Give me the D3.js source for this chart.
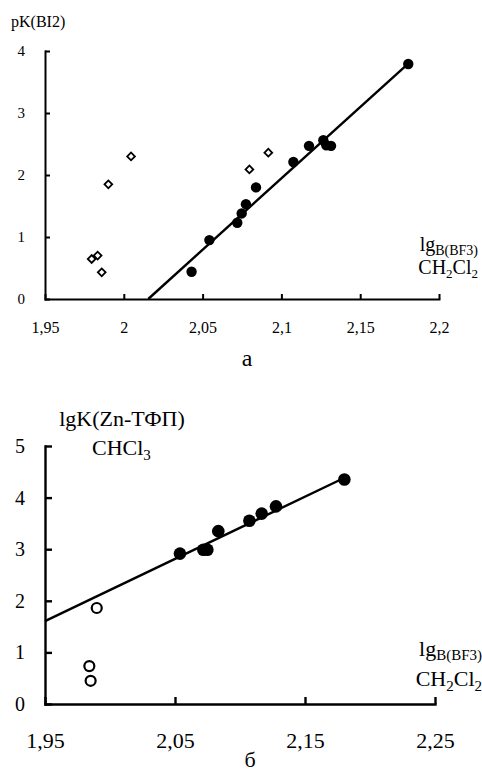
<!DOCTYPE html>
<html><head><meta charset="utf-8">
<script src="https://cdn.jsdelivr.net/npm/d3@7"></script>
<style>
html,body{margin:0;padding:0;background:#fff;}
svg{display:block;}
svg text{font-family:'Liberation Serif','Times New Roman',serif !important;}
</style></head>
<body>
<svg id="c" width="482" height="774"></svg>
<script>
// ---- Chart a data ----
const aFilledX = [2.043, 2.0543, 2.072, 2.0748, 2.0775, 2.0839, 2.1076, 2.1175, 2.1266, 2.1285, 2.1315, 2.1805];
const aFilledY = [0.44, 0.95, 1.23, 1.38, 1.53, 1.80, 2.21, 2.47, 2.56, 2.48, 2.47, 3.79];
const aOpenX = [1.9796, 1.9834, 1.986, 1.9902, 2.0046, 2.0797, 2.0917];
const aOpenY = [0.645, 0.70, 0.43, 1.85, 2.30, 2.09, 2.36];
const aFitX = [2.0155, 2.181];
const aFitY = [0, 3.81];
const aXTicks = [1.95, 2.0, 2.05, 2.1, 2.15, 2.2];
const aXTickLabels = ["1,95", "2", "2,05", "2,1", "2,15", "2,2"];
const aYTicks = [0, 1, 2, 3, 4];
const aYTickLabels = ["0", "1", "2", "3", "4"];

// ---- Chart б data ----
const bFilledX = [2.0538, 2.0718, 2.0749, 2.0833, 2.1072, 2.1167, 2.1277, 2.1803];
const bFilledY = [2.915, 2.99, 2.99, 3.35, 3.55, 3.69, 3.83, 4.35];
const bOpenX = [1.9898, 1.9841, 1.9851];
const bOpenY = [1.86, 0.735, 0.45];
const bFitX = [1.95, 2.18];
const bFitY = [1.605, 4.38];
const bXTicks = [1.95, 2.05, 2.15, 2.25];
const bXTickLabels = ["1,95", "2,05", "2,15", "2,25"];
const bYTicks = [0, 1, 2, 3, 4, 5];
const bYTickLabels = ["0", "1", "2", "3", "4", "5"];

const svg = d3.select("#c");
const FONT = "Liberation Serif, Times New Roman, serif";

function drawAxes(g, x, y, xTicks, xLabels, yTicks, yLabels, opt) {
  const xa = d3.axisBottom(x).tickValues(xTicks)
    .tickFormat((d, i) => xLabels[i]).tickSize(-opt.tick).tickSizeOuter(0).tickPadding(opt.xPad);
  const ya = d3.axisLeft(y).tickValues(yTicks)
    .tickFormat((d, i) => yLabels[i]).tickSize(-opt.tick).tickSizeOuter(0).tickPadding(opt.yPad);
  const gx = g.append("g").attr("transform", `translate(0,${y(0)})`).call(xa);
  const gy = g.append("g").attr("transform", `translate(${x(xTicks[0])},0)`).call(ya);
  [gx, gy].forEach(a => {
    a.attr("font-family", FONT);
    a.selectAll("path,line").attr("stroke", "#000").attr("stroke-width", opt.sw);
    a.select("path").attr("stroke-linecap", "square");
  });
  gx.attr("font-size", opt.xFont);
  gy.attr("font-size", opt.yFont);
  gx.selectAll("text").attr("fill", "#000");
  gy.selectAll("text").attr("fill", "#000");
}

// ===== Chart а =====
{
  const x = d3.scaleLinear().domain([1.95, 2.2]).range([45, 439]);
  const y = d3.scaleLinear().domain([0, 4]).range([299, 51]);
  const g = svg.append("g");
  drawAxes(g, x, y, aXTicks, aXTickLabels, aYTicks, aYTickLabels,
    {tick: 5, xPad: 23, yPad: 20, sw: 2, xFont: 16, yFont: 15});

  g.append("line")
    .attr("x1", x(aFitX[0])).attr("y1", y(aFitY[0]))
    .attr("x2", x(aFitX[1])).attr("y2", y(aFitY[1]))
    .attr("stroke", "#000").attr("stroke-width", 2.4);

  const sym = d3.symbol().type(d3.symbolSquare).size(30);
  g.selectAll(".od").data(aOpenX).join("path")
    .attr("d", sym)
    .attr("transform", (d, i) => `translate(${x(d)},${y(aOpenY[i])}) rotate(45)`)
    .attr("fill", "#fff").attr("stroke", "#000").attr("stroke-width", 1.8);

  g.selectAll(".fc").data(aFilledX).join("circle")
    .attr("cx", d => x(d)).attr("cy", (d, i) => y(aFilledY[i]))
    .attr("r", 5.2).attr("fill", "#000");

  svg.append("text").attr("x", 11).attr("y", 27).attr("font-size", 16).text("pK(BI2)");
  const t1 = svg.append("text").attr("x", 478).attr("y", 251).attr("text-anchor", "end").attr("font-size", 20);
  t1.append("tspan").text("lg");
  t1.append("tspan").attr("font-size", 14).attr("dy", 4).text("B(BF3)");
  const t2 = svg.append("text").attr("x", 478).attr("y", 274).attr("text-anchor", "end").attr("font-size", 20);
  t2.append("tspan").text("CH");
  t2.append("tspan").attr("font-size", 13).attr("dy", 4).text("2");
  t2.append("tspan").attr("dy", -4).text("Cl");
  t2.append("tspan").attr("font-size", 13).attr("dy", 4).text("2");
  svg.append("text").attr("x", 247).attr("y", 366).attr("text-anchor", "middle").attr("font-size", 24).text("а");
}

// ===== Chart б =====
{
  const x = d3.scaleLinear().domain([1.95, 2.25]).range([45, 435]);
  const y = d3.scaleLinear().domain([0, 5]).range([704, 446]);
  const g = svg.append("g");
  drawAxes(g, x, y, bXTicks, bXTickLabels, bYTicks, bYTickLabels,
    {tick: 7, xPad: 28, yPad: 20, sw: 2.4, xFont: 22, yFont: 20});

  g.append("line")
    .attr("x1", x(bFitX[0])).attr("y1", y(bFitY[0]))
    .attr("x2", x(bFitX[1])).attr("y2", y(bFitY[1]))
    .attr("stroke", "#000").attr("stroke-width", 2.4);

  g.selectAll(".oc").data(bOpenX).join("circle")
    .attr("cx", d => x(d)).attr("cy", (d, i) => y(bOpenY[i]))
    .attr("r", 5).attr("fill", "#fff").attr("stroke", "#000").attr("stroke-width", 2.2);

  g.selectAll(".fc").data(bFilledX).join("circle")
    .attr("cx", d => x(d)).attr("cy", (d, i) => y(bFilledY[i]))
    .attr("r", 6.3).attr("fill", "#000");

  svg.append("text").attr("x", 122).attr("y", 426).attr("text-anchor", "middle").attr("font-size", 22).text("lgK(Zn-ТФП)");
  const c = svg.append("text").attr("x", 92).attr("y", 455).attr("font-size", 22);
  c.append("tspan").text("CHCl");
  c.append("tspan").attr("font-size", 15).attr("dy", 5).text("3");
  const t1 = svg.append("text").attr("x", 482).attr("y", 656).attr("text-anchor", "end").attr("font-size", 22);
  t1.append("tspan").text("lg");
  t1.append("tspan").attr("font-size", 15).attr("dy", 4).text("B(BF3)");
  const t2 = svg.append("text").attr("x", 482).attr("y", 686).attr("text-anchor", "end").attr("font-size", 22);
  t2.append("tspan").text("CH");
  t2.append("tspan").attr("font-size", 15).attr("dy", 5).text("2");
  t2.append("tspan").attr("dy", -5).text("Cl");
  t2.append("tspan").attr("font-size", 15).attr("dy", 5).text("2");
  svg.append("text").attr("x", 250).attr("y", 767).attr("text-anchor", "middle").attr("font-size", 22).text("б");
}
</script>
</body></html>
